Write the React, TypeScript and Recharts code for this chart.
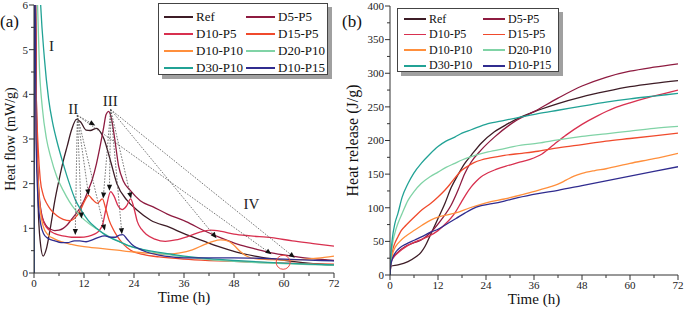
import { Legend, Line, LineChart, ReferenceDot, ReferenceLine, XAxis, YAxis } from "recharts";

type Pt = [number, number];

const FONT = '"Liberation Serif", "Times New Roman", serif';
const AXIS = "#333";

const SERIES_NAMES = ["Ref", "D5-P5", "D10-P5", "D15-P5", "D10-P10", "D20-P10", "D30-P10", "D10-P15"];
const COLORS = ["#3d1c26", "#8e1b40", "#d8304f", "#f04a2c", "#ff8f3c", "#80d3a6", "#21a295", "#302c8f"];

const TIME_TICKS = [0, 6, 12, 18, 24, 30, 36, 42, 48, 54, 60, 66, 72];
const FLOW_TICKS = [0, 0.5, 1, 1.5, 2, 2.5, 3, 3.5, 4, 4.5, 5, 5.5, 6];
const RELEASE_TICKS = [0, 25, 50, 75, 100, 125, 150, 175, 200, 225, 250, 275, 300, 325, 350, 375, 400];

// heat flow (mW/g) vs time (h)
const refFlow: Pt[] = [[0, 0], [0.15, 8], [0.6, 3.6], [1, 1.5], [1.5, 0.7], [2.2, 0.38], [3, 0.55], [4, 1.05], [5, 1.62], [6, 2.08], [7, 2.5], [8, 2.85], [9, 3.2], [10.2, 3.44], [11.2, 3.38], [12.5, 3.2], [13.5, 3.19], [15, 3.24], [16, 3.15], [16.8, 3.0], [18.3, 2.53], [19.9, 2.0], [22.3, 1.63], [24.7, 1.41], [28, 1.18], [32.6, 1.02], [36, 0.88], [40.6, 0.72], [44, 0.6], [48.6, 0.47], [53, 0.38], [57, 0.32], [62, 0.26], [67, 0.21], [72, 0.17]];
const d5p5Flow: Pt[] = [[0, 0], [0.15, 8], [0.6, 3.5], [1.2, 1.8], [2, 1.25], [3, 1.05], [4, 0.98], [5, 0.95], [6, 0.96], [7, 1.0], [8, 1.08], [9, 1.2], [10, 1.32], [11, 1.45], [12, 1.62], [13, 1.85], [14, 2.1], [15, 2.45], [16, 2.9], [16.7, 3.25], [17.3, 3.55], [17.9, 3.62], [18.6, 3.45], [19.3, 3.05], [20.3, 2.4], [21.5, 2.05], [23, 1.86], [25.5, 1.62], [28.6, 1.48], [32, 1.32], [36.5, 1.15], [41, 0.94], [45, 0.78], [49, 0.64], [53, 0.54], [57, 0.45], [62, 0.38], [67, 0.32], [72, 0.28]];
const d10p5Flow: Pt[] = [[0, 0], [0.15, 8], [0.5, 3.5], [1, 2.0], [1.6, 1.4], [2.5, 1.1], [3.5, 0.97], [5, 0.88], [7, 0.83], [9, 0.8], [11, 0.8], [13, 0.82], [14.5, 0.87], [15.5, 0.93], [16.5, 1.1], [17.3, 1.45], [18.4, 1.82], [19.2, 1.72], [20.2, 1.5], [21.2, 1.42], [22.2, 1.5], [23.2, 1.66], [24, 1.45], [24.8, 1.15], [25.8, 0.98], [27, 0.86], [29, 0.76], [31.5, 0.71], [34, 0.74], [37, 0.82], [40, 0.92], [42.3, 0.96], [45, 0.93], [48, 0.87], [52, 0.83], [57, 0.79], [62, 0.72], [67, 0.66], [72, 0.6]];
const d15p5Flow: Pt[] = [[0, 0], [0.15, 8], [0.5, 4.2], [1, 2.8], [1.5, 2.1], [2.2, 1.75], [3.1, 1.55], [4, 1.42], [5.5, 1.28], [7, 1.2], [8.7, 1.17], [10, 1.25], [11.2, 1.42], [12.2, 1.62], [13.1, 1.74], [14, 1.65], [15.2, 1.56], [16.4, 1.66], [17.2, 1.45], [18, 1.19], [19, 0.98], [20, 0.82], [21.5, 0.64], [23.2, 0.51], [26.4, 0.41], [30, 0.36], [36, 0.31], [42, 0.28], [48, 0.26], [54, 0.24], [60, 0.22], [66, 0.21], [72, 0.2]];
const d10p10Flow: Pt[] = [[0, 0], [0.15, 7], [0.5, 3.2], [1, 2.0], [1.5, 1.4], [2.2, 1.05], [3.3, 0.86], [5, 0.76], [6.5, 0.7], [9, 0.64], [12, 0.59], [16, 0.55], [20, 0.51], [24, 0.47], [28, 0.44], [32, 0.42], [35, 0.45], [38, 0.52], [41, 0.64], [43, 0.71], [44.8, 0.74], [46.5, 0.72], [48, 0.62], [49.5, 0.48], [51, 0.38], [53, 0.32], [56, 0.3], [60, 0.29], [64, 0.3], [68, 0.33], [72, 0.38]];
const d20p10Flow: Pt[] = [[0, 0], [0.15, 9], [0.7, 6.5], [1.3, 4.6], [2, 3.7], [3, 3.0], [4, 2.6], [5.5, 2.15], [7, 1.85], [8.5, 1.6], [10, 1.4], [11.5, 1.24], [13, 1.12], [15, 0.99], [17, 0.87], [19, 0.77], [21, 0.68], [23, 0.6], [26, 0.52], [30, 0.44], [33, 0.4], [36, 0.36], [42, 0.3], [48, 0.26], [54, 0.23], [60, 0.21], [66, 0.19], [72, 0.17]];
const d30p10Flow: Pt[] = [[0, 0], [0.15, 9], [1, 7.5], [1.5, 6.2], [2.5, 4.8], [3.5, 3.9], [4.5, 3.35], [5.5, 2.95], [7, 2.45], [8.5, 2.0], [10, 1.62], [11.5, 1.38], [13, 1.18], [15, 1.0], [17, 0.86], [19, 0.76], [21, 0.68], [23, 0.6], [26, 0.53], [30, 0.46], [33, 0.42], [36, 0.38], [42, 0.32], [48, 0.28], [54, 0.25], [60, 0.22], [66, 0.2], [72, 0.18]];
const d10p15Flow: Pt[] = [[0, 0], [0.15, 8], [0.5, 3], [1, 1.6], [1.6, 1.1], [2.3, 0.88], [3.3, 0.78], [5, 0.72], [6.5, 0.68], [8, 0.68], [9.7, 0.72], [11, 0.72], [12.5, 0.7], [14, 0.74], [15.5, 0.8], [17, 0.83], [18.5, 0.8], [19.5, 0.8], [20.5, 0.85], [21.3, 0.86], [22.3, 0.76], [23.5, 0.64], [25, 0.55], [27, 0.47], [30, 0.4], [33, 0.36], [36, 0.34], [42, 0.34], [48, 0.34], [54, 0.33], [60, 0.31], [66, 0.29], [72, 0.27]];

// cumulative heat release (J/g) vs time (h)
const refRelease: Pt[] = [[0, 0], [0.2, 13], [2, 15], [4.5, 20], [6.5, 27], [7.8, 34], [8.7, 42], [10.3, 62], [12, 84], [13.7, 106], [15.3, 130], [17, 149], [18.7, 166], [20.3, 178], [22.8, 196], [26.1, 213], [29.5, 225], [32.8, 235], [37, 245], [42, 255], [48, 265], [54, 273], [60, 280], [66, 285], [72, 289]];
const d5p5Release: Pt[] = [[0, 0], [0.2, 20], [1, 28], [2, 34], [3.7, 42], [6, 48], [7.8, 52], [10.3, 64], [12.8, 82], [15.3, 104], [17, 126], [18.7, 151], [20.3, 168], [22.8, 186], [26.1, 205], [31.1, 228], [36, 243], [42, 263], [48, 281], [54, 294], [60, 303], [66, 309], [72, 314]];
const d10p5Release: Pt[] = [[0, 0], [0.2, 18], [1, 27], [2, 33], [4.5, 44], [7, 51], [9.5, 57], [12, 66], [13.7, 75], [16.2, 92], [17.8, 108], [19, 120], [20.3, 131], [21.5, 139], [22.8, 146], [24.5, 152], [26.5, 157], [29, 162], [32, 167], [35, 172], [38, 180], [41, 194], [44, 208], [48, 224], [52, 237], [56, 248], [60, 256], [64, 263], [68, 269], [72, 275]];
const d15p5Release: Pt[] = [[0, 0], [0.2, 18], [0.6, 35], [1.2, 47], [2, 57], [2.8, 66], [4, 74], [6.2, 87], [8, 97], [10.3, 107], [12, 116], [13.7, 126], [15, 135], [16.2, 144], [17.8, 155], [19.5, 162], [21, 167], [22.8, 171], [25, 174], [28.6, 178], [33, 181], [37, 184], [42, 189], [48, 194], [54, 199], [60, 203], [66, 207], [72, 211]];
const d10p10Release: Pt[] = [[0, 0], [0.2, 16], [0.6, 30], [1.2, 40], [2, 47], [2.8, 52], [4, 58], [6.2, 67], [8, 74], [10.3, 82], [12, 86], [14, 89], [16.2, 92], [20, 100], [24.5, 108], [28.6, 113], [32.8, 119], [37, 126], [40, 131], [42, 135], [44, 141], [46, 147], [48, 151], [51, 155], [54, 158], [60, 166], [66, 173], [72, 181]];
const d20p10Release: Pt[] = [[0, 0], [0.2, 22], [0.6, 45], [1.2, 62], [2, 77], [3, 91], [4.5, 111], [6, 124], [7.8, 136], [10, 146], [12, 153], [14, 160], [16.2, 166], [18, 171], [20.3, 176], [24.5, 183], [28.6, 188], [32.8, 193], [37, 196], [42, 201], [48, 206], [54, 210], [60, 214], [66, 218], [72, 221]];
const d30p10Release: Pt[] = [[0, 0], [0.2, 28], [0.6, 55], [1.2, 76], [2, 92], [3, 115], [4.5, 136], [6, 152], [7.8, 166], [10, 180], [12, 191], [14, 199], [16.2, 205], [18, 211], [20.3, 216], [24.5, 225], [28.6, 230], [32.8, 235], [37, 240], [42, 245], [48, 251], [54, 257], [60, 262], [66, 266], [72, 270]];
const d10p15Release: Pt[] = [[0, 0], [0.2, 14], [0.6, 24], [1.2, 32], [2, 38], [2.8, 42], [4, 46], [6.2, 52], [8, 57], [10.3, 64], [12, 68], [14.5, 77], [16.5, 84], [18.7, 92], [20.5, 98], [22.8, 103], [25.5, 106], [28.6, 110], [32, 115], [37, 121], [42, 126], [48, 133], [54, 140], [60, 147], [66, 154], [72, 161]];

const FLOW = [refFlow, d5p5Flow, d10p5Flow, d15p5Flow, d10p10Flow, d20p10Flow, d30p10Flow, d10p15Flow];
const RELEASE = [refRelease, d5p5Release, d10p5Release, d15p5Release, d10p10Release, d20p10Release, d30p10Release, d10p15Release];

// stage annotations on panel (a)
const PEAK_II: Pt = [10.4, 3.53];
const PEAK_III: Pt = [18.4, 3.66];
const ARROWS_II: Pt[] = [[14.7, 3.3], [9.9, 0.85], [11.4, 1.22], [13.1, 1.74], [17.0, 0.95], [57, 0.42]];
const ARROWS_III: Pt[] = [[16.6, 1.67], [18.1, 1.84], [21.1, 0.87], [23.3, 1.67], [43.8, 0.78], [62.6, 0.34]];
const STAGES = [
    { text: "I", t: 4.2, v: 5.1 },
    { text: "II", t: 9.4, v: 3.68 },
    { text: "III", t: 18.3, v: 3.86 },
    { text: "IV", t: 52.2, v: 1.56 },
];
const CIRCLE: Pt = [59.8, 0.24];

const rows = (pts: Pt[]) => pts.map(([t, v]) => ({ t, v }));

function makeXTick(label: number) {
    return (p: any) => {
        const major = p.payload.value % 12 === 0;
        return (
            <g>
                <line x1={p.x} x2={p.x} y1={p.y} y2={p.y + (major ? 5 : 3)} stroke={AXIS} />
                {major && (
                    <text x={p.x} y={p.y + label} textAnchor="middle" fontSize={11} fill="#222" fontFamily={FONT}>
                        {p.payload.value}
                    </text>
                )}
            </g>
        );
    };
}

function makeYTick(step: number) {
    return (p: any) => {
        const major = Math.abs(p.payload.value / step - Math.round(p.payload.value / step)) < 1e-6;
        return (
            <g>
                <line x1={p.x - (major ? 5 : 3)} x2={p.x} y1={p.y} y2={p.y} stroke={AXIS} />
                {major && (
                    <text x={p.x - 6} y={p.y} dy="0.35em" textAnchor="end" fontSize={11} fill="#222" fontFamily={FONT}>
                        {p.payload.value}
                    </text>
                )}
            </g>
        );
    };
}

function Arrow(props: any) {
    const { x1, y1, x2, y2 } = props;
    if (![x1, y1, x2, y2].every((n) => Number.isFinite(n))) return <g />;
    const a = Math.atan2(y2 - y1, x2 - x1);
    const bx = x2 - 6 * Math.cos(a);
    const by = y2 - 6 * Math.sin(a);
    const nx = -Math.sin(a) * 2.6;
    const ny = Math.cos(a) * 2.6;
    return (
        <g>
            <line x1={x1} y1={y1} x2={bx} y2={by} stroke="#555" strokeWidth={0.8} strokeDasharray="1.6 1.4" />
            <polygon points={`${x2},${y2} ${bx + nx},${by + ny} ${bx - nx},${by - ny}`} fill="#111" />
        </g>
    );
}

interface LegendLayout {
    width: number;
    height: number;
    cols: [number, number];
    lineW: number;
    row0: number;
    rowH: number;
    fontSize: number;
}

function makeLegend(lay: LegendLayout) {
    return () => (
        <div
            style={{
                position: "relative",
                width: lay.width,
                height: lay.height,
                boxSizing: "border-box",
                border: "1px solid #444",
                background: "#fff",
                boxShadow: "4px 4px 0 #a0a0a0",
                fontFamily: FONT,
                fontSize: lay.fontSize,
                color: "#111",
            }}
        >
            {SERIES_NAMES.map((name, i) => {
                const x = lay.cols[i % 2];
                const y = lay.row0 + Math.floor(i / 2) * lay.rowH;
                return (
                    <div key={name} style={{ position: "absolute", left: x, top: y - 10, height: 20, display: "flex", alignItems: "center", whiteSpace: "nowrap" }}>
                        <div style={{ width: lay.lineW, height: 1.6, background: COLORS[i], marginRight: 3 }} />
                        <span>{name}</span>
                    </div>
                );
            })}
        </div>
    );
}

const labelText = { fill: "#111", stroke: "none", fontFamily: FONT, fontWeight: 400 } as const;

function FlowChart() {
    return (
        <LineChart width={340} height={310} margin={{ top: 5, right: 6, bottom: 0, left: 0 }}>
            <XAxis
                dataKey="t"
                type="number"
                domain={[0, 72]}
                ticks={TIME_TICKS}
                interval={0}
                tickSize={0}
                tickMargin={0}
                height={37}
                stroke={AXIS}
                tick={makeXTick(14)}
                label={{ value: "Time (h)", position: "insideBottom", offset: 8, fontSize: 15, ...labelText }}
                allowDataOverflow
            />
            <XAxis xAxisId="top" orientation="top" type="number" domain={[0, 72]} height={0} tick={false} tickLine={false} stroke={AXIS} allowDataOverflow />
            <YAxis
                type="number"
                domain={[0, 6]}
                ticks={FLOW_TICKS}
                interval={0}
                tickSize={0}
                tickMargin={0}
                width={34}
                stroke={AXIS}
                tick={makeYTick(1)}
                allowDataOverflow
                label={{ value: "Heat flow (mW/g)", angle: -90, position: "insideLeft", offset: 10, textAnchor: "middle", fontSize: 14, ...labelText }}
            />
            <YAxis yAxisId="right" orientation="right" type="number" domain={[0, 6]} width={0} tick={false} tickLine={false} stroke={AXIS} allowDataOverflow />
            {FLOW.map((pts, i) => (
                <Line
                    key={SERIES_NAMES[i]}
                    data={rows(pts)}
                    dataKey="v"
                    name={SERIES_NAMES[i]}
                    type="monotone"
                    stroke={COLORS[i]}
                    strokeWidth={1.3}
                    dot={false}
                    isAnimationActive={false}
                />
            ))}
            {ARROWS_II.map(([t, v], i) => (
                <ReferenceLine key={`a2-${i}`} segment={[{ x: PEAK_II[0], y: PEAK_II[1] }, { x: t, y: v }]} shape={Arrow} />
            ))}
            {ARROWS_III.map(([t, v], i) => (
                <ReferenceLine key={`a3-${i}`} segment={[{ x: PEAK_III[0], y: PEAK_III[1] }, { x: t, y: v }]} shape={Arrow} />
            ))}
            {STAGES.map((s) => (
                <ReferenceDot
                    key={s.text}
                    x={s.t}
                    y={s.v}
                    r={1}
                    fill="none"
                    stroke="none"
                    label={{ value: s.text, position: "center", fontSize: 15, ...labelText, fill: "#222" }}
                />
            ))}
            <ReferenceDot x={CIRCLE[0]} y={CIRCLE[1]} r={7} fill="none" stroke="#ee4a44" strokeWidth={1} />
            <Legend
                layout="vertical"
                align="center"
                verticalAlign="middle"
                wrapperStyle={{ left: 158, top: 3, width: 170, height: 72 }}
                content={makeLegend({ width: 170, height: 72, cols: [5, 87], lineW: 29, row0: 13, rowH: 17, fontSize: 13 })}
            />
        </LineChart>
    );
}

function ReleaseChart() {
    return (
        <LineChart width={345} height={310} margin={{ top: 6, right: 7, bottom: 0, left: 0 }}>
            <XAxis
                dataKey="t"
                type="number"
                domain={[0, 72]}
                ticks={TIME_TICKS}
                interval={0}
                tickSize={0}
                tickMargin={0}
                height={35}
                stroke={AXIS}
                tick={makeXTick(14)}
                label={{ value: "Time (h)", position: "insideBottom", offset: 6, fontSize: 15, ...labelText }}
                allowDataOverflow
            />
            <XAxis xAxisId="top" orientation="top" type="number" domain={[0, 72]} height={0} tick={false} tickLine={false} stroke={AXIS} allowDataOverflow />
            <YAxis
                type="number"
                domain={[0, 400]}
                ticks={RELEASE_TICKS}
                interval={0}
                tickSize={0}
                tickMargin={0}
                width={50}
                stroke={AXIS}
                tick={makeYTick(50)}
                allowDataOverflow
                label={{ value: "Heat release (J/g)", angle: -90, position: "insideLeft", offset: 12, textAnchor: "middle", fontSize: 16, ...labelText }}
            />
            <YAxis yAxisId="right" orientation="right" type="number" domain={[0, 400]} width={0} tick={false} tickLine={false} stroke={AXIS} allowDataOverflow />
            {RELEASE.map((pts, i) => (
                <Line
                    key={SERIES_NAMES[i]}
                    data={rows(pts)}
                    dataKey="v"
                    name={SERIES_NAMES[i]}
                    type="monotone"
                    stroke={COLORS[i]}
                    strokeWidth={1.3}
                    dot={false}
                    isAnimationActive={false}
                />
            ))}
            <Legend
                layout="vertical"
                align="center"
                verticalAlign="middle"
                wrapperStyle={{ left: 57, top: 8, width: 162, height: 64 }}
                content={makeLegend({ width: 162, height: 64, cols: [6, 85], lineW: 22, row0: 10, rowH: 15.6, fontSize: 12 })}
            />
        </LineChart>
    );
}

export default function App() {
    return (
        <div style={{ position: "absolute", left: 0, top: 0, width: 685, height: 310, background: "#fff", fontFamily: FONT }}>
            <div style={{ position: "absolute", left: 0, top: 0 }}>
                <FlowChart />
            </div>
            <div style={{ position: "absolute", left: 340, top: 0 }}>
                <ReleaseChart />
            </div>
            <span style={{ position: "absolute", left: 0, top: 12, fontSize: 17, lineHeight: "20px", color: "#111" }}>(a)</span>
            <span style={{ position: "absolute", left: 342, top: 12, fontSize: 17, lineHeight: "20px", color: "#111" }}>(b)</span>
        </div>
    );
}
